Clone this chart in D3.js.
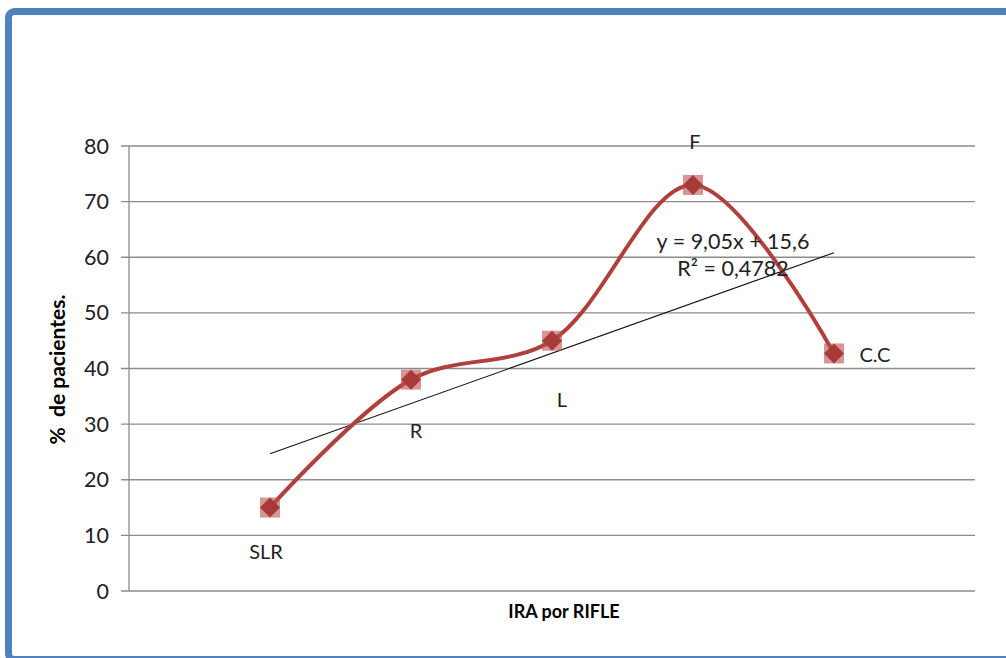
<!DOCTYPE html>
<html>
<head>
<meta charset="utf-8">
<script src="https://cdn.jsdelivr.net/npm/d3@7"></script>
<style>
  html, body { margin: 0; padding: 0; background: #fff; }
  svg { display: block; font-family: Lato, "Open Sans", "Liberation Sans", sans-serif; }
</style>
</head>
<body>
<svg id="chart" width="1006" height="658"></svg>
<script>
// categories sit at x = 1..5 on a 0..6 scatter axis (Excel style)
const categories = ['SLR', 'R', 'L', 'F', 'C.C'];
const xValues = [1, 2, 3, 4, 5];
const pctValues = [15, 38, 45, 73, 42.7];
const yTicks = [0, 10, 20, 30, 40, 50, 60, 70, 80];
const equationText = ['y = 9,05x + 15,6', 'R² = 0,4782'];
// hand-placed data label nudges (px) as in the original sheet
const labelDx = [-4, 5, 10, 2, 41];
const labelDy = [44, 51, 59, -43, 2];

const svg = d3.select('#chart');
const W = 1006, H = 658;
const m = { left: 129, right: 31, top: 146, bottom: 67 };

svg.append('rect').attr('width', W).attr('height', H).attr('fill', '#fff');
// blue outer frame, cut by the window on the right/bottom
svg.append('rect')
    .attr('x', 8.5).attr('y', 11.5).attr('width', 1100).attr('height', 648)
    .attr('rx', 6).attr('fill', 'none').attr('stroke', '#4F81BD').attr('stroke-width', 7);

const x = d3.scaleLinear().domain([0, 6]).range([m.left, W - m.right]);
const y = d3.scaleLinear().domain([0, 80]).range([H - m.bottom, m.top]);

// gridlines + ticks
svg.append('g')
    .selectAll('line').data(yTicks).join('line')
    .attr('x1', m.left - 8).attr('x2', W - m.right)
    .attr('y1', d => y(d)).attr('y2', d => y(d))
    .attr('stroke', '#8c8c8c').attr('stroke-width', 1.3);

svg.append('line')
    .attr('x1', m.left).attr('x2', m.left)
    .attr('y1', y(80)).attr('y2', y(0))
    .attr('stroke', '#8c8c8c').attr('stroke-width', 1.3);

svg.append('g')
    .selectAll('text').data(yTicks).join('text')
    .attr('x', m.left - 20).attr('y', d => y(d)).attr('dy', '0.35em')
    .attr('text-anchor', 'end').attr('font-size', 21.5).attr('fill', '#222')
    .text(d => d);

// axis titles
svg.append('text')
    .attr('x', (m.left + W - m.right) / 2 + 12).attr('y', 618)
    .attr('text-anchor', 'middle').attr('font-size', 18).attr('font-weight', 'bold')
    .text('IRA por RIFLE');
svg.append('text')
    .attr('transform', `translate(65,${(y(0) + y(80)) / 2 + 1}) rotate(-90)`)
    .attr('text-anchor', 'middle').attr('font-size', 21).attr('font-weight', 'bold')
    .attr('xml:space', 'preserve')
    .text('%  de pacientes.');

// linear trendline (least squares from the data)
const mx = d3.mean(xValues), my = d3.mean(pctValues);
const slope = d3.sum(xValues, (v, i) => (v - mx) * (pctValues[i] - my)) /
              d3.sum(xValues, v => (v - mx) ** 2);
const icept = my - slope * mx;
const x0 = d3.min(xValues), x1 = d3.max(xValues);
svg.append('line')
    .attr('x1', x(x0)).attr('y1', y(icept + slope * x0))
    .attr('x2', x(x1)).attr('y2', y(icept + slope * x1))
    .attr('stroke', '#111').attr('stroke-width', 1.1);

// smoothed series line
const pts = xValues.map((v, i) => [v, pctValues[i]]);
svg.append('path')
    .datum(pts)
    .attr('d', d3.line().x(d => x(d[0])).y(d => y(d[1])).curve(d3.curveCatmullRom.alpha(0.5)))
    .attr('fill', 'none').attr('stroke', '#B0403C').attr('stroke-width', 4);

// markers: pale square behind a diamond
const mk = svg.append('g').selectAll('g').data(pts).join('g')
    .attr('transform', d => `translate(${x(d[0])},${y(d[1])})`);
mk.append('rect').attr('x', -10).attr('y', -10).attr('width', 20).attr('height', 20)
    .attr('fill', 'rgba(185,80,80,0.6)');
mk.append('path').attr('d', 'M0,-10L10,0L0,10L-10,0Z').attr('fill', '#A83A38');

// data labels
svg.append('g').selectAll('text').data(categories).join('text')
    .attr('x', (d, i) => x(xValues[i]) + labelDx[i])
    .attr('y', (d, i) => y(pctValues[i]) + labelDy[i])
    .attr('dy', '0.35em').attr('text-anchor', 'middle')
    .attr('font-size', 20).attr('fill', '#222')
    .text(d => d);

// trendline equation
svg.append('g').selectAll('text').data(equationText).join('text')
    .attr('x', 733).attr('y', (d, i) => 241 + i * 27)
    .attr('dy', '0.35em').attr('text-anchor', 'middle')
    .attr('font-size', 21.5).attr('fill', '#222')
    .text(d => d);
</script>
</body>
</html>
